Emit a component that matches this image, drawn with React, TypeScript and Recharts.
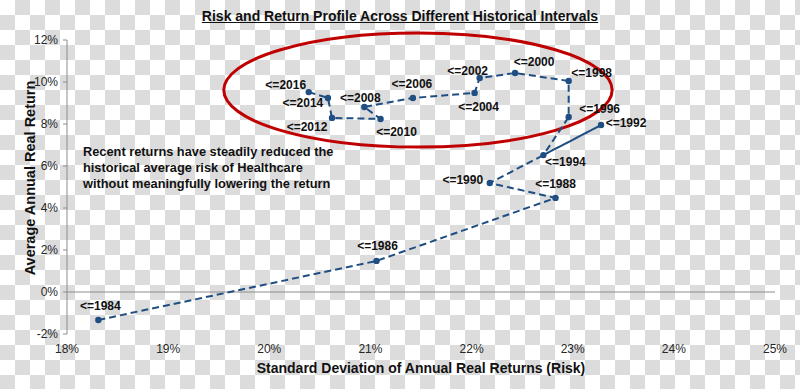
import {
  ReferenceArea,
  ReferenceLine,
  Scatter,
  ScatterChart,
  XAxis,
  YAxis,
} from "recharts";

// end-of-window year for each rolling interval, in plotting order
const years = [
  1984, 1986, 1988, 1990, 1992, 1994, 1996, 1998, 2000, 2002, 2004, 2006,
  2008, 2010, 2012, 2014, 2016,
];

// standard deviation of annual real returns, %
const riskValues = [
  18.31, 21.06, 22.83, 22.18, 23.28, 22.71, 22.96, 22.96, 22.43, 22.08, 22.03,
  21.42, 20.94, 21.1, 20.62, 20.58, 20.39,
];

// average annual real return, %
const returnValues = [
  -1.33, 1.48, 4.48, 5.19, 7.95, 6.52, 8.33, 10.05, 10.43, 10.19, 9.48, 9.24,
  8.81, 8.24, 8.29, 9.24, 9.52,
];

const xTicks = [18, 19, 20, 21, 22, 23, 24, 25];
const yTicks = [-2, 0, 2, 4, 6, 8, 10, 12];

// where each "<=year" label sits relative to its point (center offset, px)
const labelOffset: Record<number, [number, number]> = {
  1984: [2, -14],
  1986: [1, -15],
  1988: [0, -14],
  1990: [-27, -3],
  1992: [25, -2],
  1994: [22, 7],
  1996: [31, -8],
  1998: [23, -8],
  2000: [19, -11],
  2002: [-12, -7],
  2004: [4, 14],
  2006: [-1, -14],
  2008: [-4, -9],
  2010: [16, 13],
  2012: [-25, 9],
  2014: [-25, 5],
  2016: [-23, -7],
};

const data = years.map((year, i) => ({
  year,
  risk: riskValues[i],
  ret: returnValues[i],
}));

const font = '"Liberation Sans", Arial, sans-serif';
const navy = "#1f4e82";
const axisGray = "#8c8c8c";

const tick = { fill: "#262626", fontSize: 12, fontFamily: font };

function PointWithLabel(props: any) {
  const { cx, cy, payload } = props;
  const [dx, dy] = labelOffset[payload.year] ?? [0, -12];
  return (
    <g>
      <circle cx={cx} cy={cy} r={3.2} fill={navy} />
      <text
        x={cx + dx}
        y={cy + dy}
        textAnchor="middle"
        dominantBaseline="central"
        fontFamily={font}
        fontSize={12}
        fontWeight="bold"
        fill="#111"
      >
        {`<=${payload.year}`}
      </text>
    </g>
  );
}

function EllipseShape(props: any) {
  const { x, y, width, height } = props;
  return (
    <ellipse
      cx={x + width / 2}
      cy={y + height / 2}
      rx={width / 2}
      ry={height / 2}
      fill="none"
      stroke="#c00000"
      strokeWidth={3}
    />
  );
}

export default function App() {
  return (
    <div
      style={{
        position: "absolute",
        left: 0,
        top: 0,
        width: 800,
        height: 389,
        background:
          "repeating-conic-gradient(#dcdcdc 0% 25%, #ffffff 0% 50%) 0 0 / 30px 30px",
        fontFamily: font,
        overflow: "hidden",
      }}
    >
      <ScatterChart
        width={800}
        height={389}
        margin={{ top: 40, right: 25, bottom: 25, left: 0 }}
      >
        <XAxis
          type="number"
          dataKey="risk"
          domain={[18, 25]}
          ticks={xTicks}
          tickFormatter={(v: number) => `${v}%`}
          axisLine={false}
          tickLine={false}
          tickSize={6}
          tickMargin={4}
          tick={tick}
          height={30}
          label={{
            value: "Standard Deviation of Annual Real Returns (Risk)",
            position: "bottom",
            offset: -1,
            fill: "#111",
            fontSize: 14,
            fontWeight: "bold",
            fontFamily: font,
          }}
        />
        <YAxis
          type="number"
          dataKey="ret"
          domain={[-2, 12]}
          ticks={yTicks}
          tickFormatter={(v: number) => `${v}%`}
          axisLine={{ stroke: axisGray }}
          tickLine={{ stroke: axisGray }}
          tickSize={4}
          tickMargin={5}
          tick={tick}
          width={67}
        />
        <ReferenceLine y={0} stroke={axisGray} strokeWidth={1} />
        <ReferenceArea
          x1={19.55}
          x2={23.39}
          y1={6.9}
          y2={12.33}
          ifOverflow="visible"
          shape={<EllipseShape />}
        />
        <Scatter
          data={data}
          isAnimationActive={false}
          line={{ stroke: navy, strokeWidth: 2, strokeDasharray: "7 4" }}
          lineType="joint"
          shape={<PointWithLabel />}
        />
      </ScatterChart>

      <div
        style={{
          position: "absolute",
          left: 0,
          width: 800,
          top: 8,
          textAlign: "center",
          fontSize: 14,
          fontWeight: "bold",
          textDecoration: "underline",
          color: "#111",
        }}
      >
        Risk and Return Profile Across Different Historical Intervals
      </div>

      <div
        style={{
          position: "absolute",
          left: 30,
          top: 178,
          transform: "translate(-50%, -50%) rotate(-90deg)",
          whiteSpace: "nowrap",
          fontSize: 14.5,
          fontWeight: "bold",
          color: "#111",
        }}
      >
        Average Annual Real Return
      </div>

      <div
        style={{
          position: "absolute",
          left: 83,
          top: 144,
          fontSize: 12.8,
          lineHeight: "16px",
          fontWeight: "bold",
          color: "#111",
          whiteSpace: "nowrap",
        }}
      >
        Recent returns have steadily reduced the
        <br />
        historical average risk of Healthcare
        <br />
        without meaningfully lowering the return
      </div>
    </div>
  );
}
